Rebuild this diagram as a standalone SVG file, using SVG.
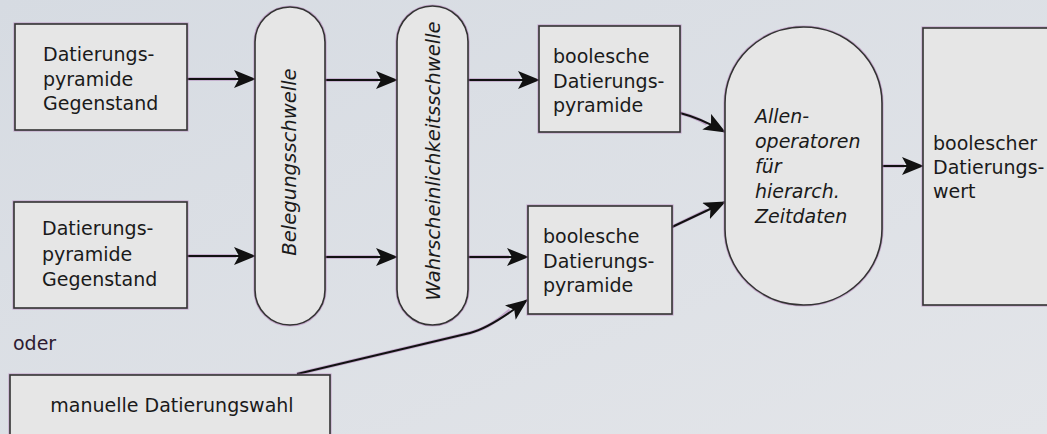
<svg xmlns="http://www.w3.org/2000/svg" width="1047" height="434" viewBox="0 0 1047 434">
  <defs>
    <linearGradient id="bg" x1="0" y1="0" x2="1" y2="1">
      <stop offset="0" stop-color="#d6dbe2"/>
      <stop offset="1" stop-color="#e3e5e9"/>
    </linearGradient>
    <marker id="arrow" markerUnits="userSpaceOnUse" viewBox="0 0 22 18" refX="21" refY="9" markerWidth="22" markerHeight="18" orient="auto">
      <path d="M0,0 L22,9 L0,18 L5,9 z" fill="#111"/>
    </marker>
  </defs>
  <style>
    .box { fill: #e6e6e6; stroke: #333; stroke-width: 1.6; }
    .halo { fill: none; stroke: #b27ab8; stroke-width: 3.2; opacity: 0.55; }
    .lbl { font-family: "DejaVu Sans", "Liberation Sans", sans-serif; font-size: 19px; fill: #1a1a1a; }
    .it { font-style: italic; }
    .vert { font-size: 19.6px; }
    .conn { fill: none; stroke: #111; stroke-width: 2; marker-end: url(#arrow); }
    .connhalo { fill: none; stroke: #a060a8; stroke-width: 3.4; opacity: 0.45; }
  </style>

  <rect width="1047" height="434" fill="url(#bg)"/>

  <!-- connectors -->
  <g id="connectors">
    <g class="connhalo">
      <path d="M187,79 H236"/>
      <path d="M187,256 H236"/>
      <path d="M325,80 H378"/>
      <path d="M325,257 H378"/>
      <path d="M468,80 H520"/>
      <path d="M468,257 H509"/>
      <path d="M297,374 L470,333 Q490,328 510,310"/>
      <path d="M680,113 Q696,117 707,124"/>
      <path d="M672,227 L707,210"/>
      <path d="M882,166 H904"/>
    </g>
    <path class="conn" d="M187,79 H255"/>
    <path class="conn" d="M187,256 H255"/>
    <path class="conn" d="M325,80 H397"/>
    <path class="conn" d="M325,257 H397"/>
    <path class="conn" d="M468,80 H539"/>
    <path class="conn" d="M468,257 H528"/>
    <path class="conn" d="M297,374 L470,333 Q490,328 527,300"/>
    <path class="conn" d="M680,113 Q700,118 725,132"/>
    <path class="conn" d="M672,227 L725,202"/>
    <path class="conn" d="M882,166 H923"/>
  </g>

  <g id="pyramide-gegenstand-1">
    <rect class="halo" x="15" y="24" width="172" height="106"/>
    <rect class="box" x="15" y="24" width="172" height="106"/>
    <text class="lbl" x="43" y="61">Datierungs-</text>
    <text class="lbl" x="43" y="86">pyramide</text>
    <text class="lbl" x="43" y="110">Gegenstand</text>
  </g>

  <g id="pyramide-gegenstand-2">
    <rect class="halo" x="14" y="202" width="173" height="106"/>
    <rect class="box" x="14" y="202" width="173" height="106"/>
    <text class="lbl" x="42" y="235">Datierungs-</text>
    <text class="lbl" x="42" y="261">pyramide</text>
    <text class="lbl" x="42" y="286">Gegenstand</text>
  </g>

  <text id="oder" class="lbl" x="13" y="350" style="fill:#2e1a30">oder</text>

  <g id="manuelle-wahl">
    <rect class="halo" x="10" y="375" width="320" height="70"/>
    <rect class="box" x="10" y="375" width="320" height="70"/>
    <text class="lbl" x="172" y="412" text-anchor="middle">manuelle Datierungswahl</text>
  </g>

  <g id="belegungsschwelle">
    <rect class="halo" x="255" y="7" width="70" height="318" rx="35" ry="35"/>
    <rect class="box" x="255" y="7" width="70" height="318" rx="35" ry="35"/>
    <text class="lbl it vert" transform="translate(296,162) rotate(-90)" text-anchor="middle">Belegungsschwelle</text>
  </g>

  <g id="wahrscheinlichkeitsschwelle">
    <rect class="halo" x="397" y="6" width="71" height="319" rx="35.5" ry="35.5"/>
    <rect class="box" x="397" y="6" width="71" height="319" rx="35.5" ry="35.5"/>
    <text class="lbl it vert" transform="translate(440,161) rotate(-90)" text-anchor="middle">Wahrscheinlichkeitsschwelle</text>
  </g>

  <g id="boolesche-pyramide-1">
    <rect class="halo" x="539" y="26" width="141" height="106"/>
    <rect class="box" x="539" y="26" width="141" height="106"/>
    <text class="lbl" x="553" y="63">boolesche</text>
    <text class="lbl" x="553" y="88">Datierungs-</text>
    <text class="lbl" x="553" y="112">pyramide</text>
  </g>

  <g id="boolesche-pyramide-2">
    <rect class="halo" x="528" y="206" width="144" height="108"/>
    <rect class="box" x="528" y="206" width="144" height="108"/>
    <text class="lbl" x="543" y="243">boolesche</text>
    <text class="lbl" x="543" y="268">Datierungs-</text>
    <text class="lbl" x="543" y="292">pyramide</text>
  </g>

  <g id="allen-operatoren">
    <rect class="halo" x="725" y="27" width="157" height="278" rx="78.5" ry="76"/>
    <rect class="box" x="725" y="27" width="157" height="278" rx="78.5" ry="76"/>
    <text class="lbl it" x="755" y="123">Allen-</text>
    <text class="lbl it" x="755" y="148">operatoren</text>
    <text class="lbl it" x="755" y="173">für</text>
    <text class="lbl it" x="755" y="198">hierarch.</text>
    <text class="lbl it" x="755" y="223">Zeitdaten</text>
  </g>

  <g id="boolescher-wert">
    <rect class="halo" x="923" y="28" width="140" height="277"/>
    <rect class="box" x="923" y="28" width="140" height="277"/>
    <text class="lbl" x="933" y="150">boolescher</text>
    <text class="lbl" x="933" y="174">Datierungs-</text>
    <text class="lbl" x="933" y="198">wert</text>
  </g>
</svg>
